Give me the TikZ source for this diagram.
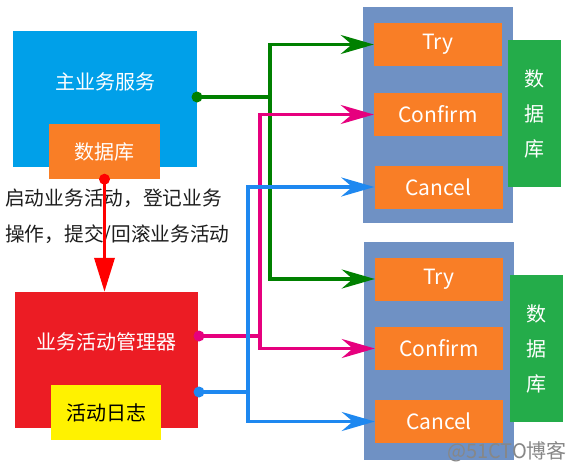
\documentclass[tikz,border=0pt]{standalone}
\usepackage{fontspec}
\setmainfont{Noto Sans CJK SC}
\usetikzlibrary{arrows.meta}
\definecolor{mainblue}{RGB}{0,160,233}
\definecolor{boxorange}{RGB}{249,126,38}
\definecolor{boxred}{RGB}{236,28,36}
\definecolor{boxyellow}{RGB}{255,242,0}
\definecolor{panelblue}{RGB}{111,145,196}
\definecolor{dbgreen}{RGB}{36,172,74}
\definecolor{lgreen}{RGB}{0,128,0}
\definecolor{lpink}{RGB}{230,0,126}
\definecolor{lblue}{RGB}{30,136,240}
\definecolor{wmgray}{RGB}{135,135,135}
\begin{document}
\begin{tikzpicture}[x=1pt,y=-1pt,
  box/.style={rectangle, inner sep=0pt, draw=none},
  cn/.style={font=\fontsize{20}{24}\selectfont, text=white},
  en/.style={font=\fontsize{21}{24}\selectfont, text=white},
  conn/.style={line width=3.3pt},
  tipa/.style={-{Stealth[length=33pt,width=19pt,inset=11pt]}},
  dotn/.style={circle, fill, inner sep=0pt, minimum size=11pt},
  opbox/.style={box, fill=boxorange, minimum width=128pt, minimum height=43pt, en},
  dbbox/.style={box, fill=dbgreen, minimum width=53pt, minimum height=147pt, cn, align=center, font=\fontsize{20}{35}\selectfont},
  panel/.style={box, fill=panelblue, minimum width=150pt}
]
\fill[white] (0,0) rectangle (567,463);
\useasboundingbox (0,0) rectangle (567,463);

% left side
\node[box, fill=mainblue, minimum width=184pt, minimum height=136pt,
  label={[cn, yshift=17pt]center:主业务服务}] (main) at (105,99) {};
\node[box, fill=boxorange, minimum width=111pt, minimum height=55pt, cn] (db0) at (104.5,151.5) {数据库};
\node[box, fill=boxred, minimum width=183pt, minimum height=136pt,
  label={[cn, yshift=18pt]center:业务活动管理器}] (mgr) at (106.5,360) {};
\node[box, fill=boxyellow, minimum width=110pt, minimum height=55pt,
  font=\fontsize{20}{24}\selectfont, text=black] (log) at (106,412.5) {活动日志};

\node[anchor=north west, align=left, inner sep=0pt,
  font=\fontsize{19.7}{36}\selectfont, text={rgb,255:red,30;green,30;blue,30}] (note) at (5,189) {启动业务活动，登记业务\\操作，提交/回滚业务活动};

% right side, upper
\node[panel, minimum height=216pt] (p1) at (438,115) {};
\node[opbox] (try1) at (438,44.5) {Try};
\node[opbox] (conf1) at (438,114.5) {Confirm};
\node[opbox] (canc1) at (438.5,187) {Cancel};
\node[dbbox] (dbr1) at (534.5,113.5) {数\\据\\库};

% right side, lower
\node[panel, minimum height=218pt] (p2) at (439,351) {};
\node[opbox] (try2) at (439,279) {Try};
\node[opbox] (conf2) at (439,348.5) {Confirm};
\node[opbox] (canc2) at (439,421.5) {Cancel};
\node[dbbox] (dbr2) at (536.5,348.5) {数\\据\\库};

% green connectors
\node[dotn, fill=lgreen] (gdot) at (197,97) {};
\coordinate (gj) at (270,97);
\draw[conn, lgreen] (gdot.center) -- (gj);
\draw[conn, lgreen, tipa] (gj) |- (try1.west);
\draw[conn, lgreen, tipa] (gj) |- (try2.west);

% pink connectors
\node[dotn, fill=lpink] (pdot) at (199,336) {};
\coordinate (pj) at (260,336);
\draw[conn, lpink] (pdot.center) -- (pj);
\draw[conn, lpink, tipa] (pj) |- (conf1.west);
\draw[conn, lpink, tipa] (pj) |- (conf2.west);

% blue connectors
\node[dotn, fill=lblue] (bdot) at (199,392) {};
\coordinate (bj) at (248,392);
\draw[conn, lblue] (bdot.center) -- (bj);
\draw[conn, lblue, tipa] (bj) |- (canc1.west);
\draw[conn, lblue, tipa] (bj) |- (canc2.west);

% red arrow
\node[dotn, fill=red] (rdot) at (db0.south) {};
\draw[line width=3.5pt, red, -{Triangle[length=34pt,width=20pt]}] (rdot.center) -- (rdot.center |- mgr.north);

% watermark
\node[anchor=base west, inner sep=0pt, font=\fontsize{20}{24}\selectfont, text=wmgray] (wm) at (447,458) {@51CTO博客};
\end{tikzpicture}
\end{document}
